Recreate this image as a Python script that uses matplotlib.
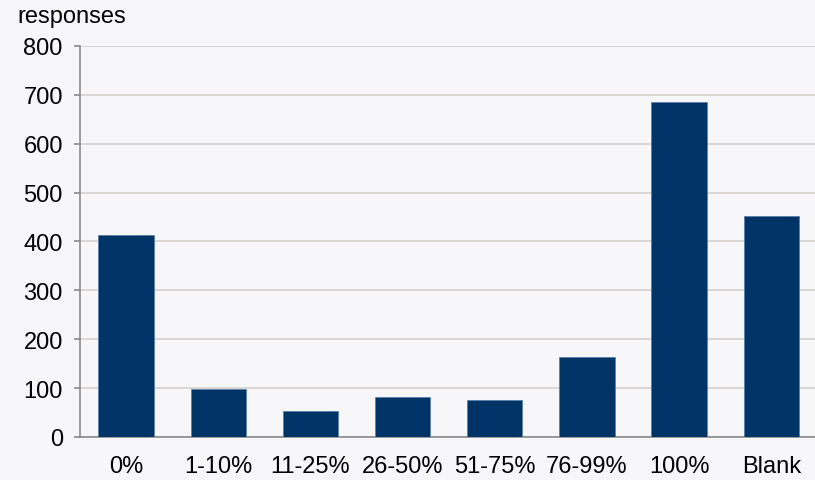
import matplotlib
matplotlib.use("Agg")
import matplotlib.pyplot as plt

# answer buckets and response counts
categories = ['0%', '1-10%', '11-25%', '26-50%', '51-75%', '76-99%', '100%', 'Blank']
responses = [413, 98, 53, 82, 76, 164, 685, 452]
yticks = [0, 100, 200, 300, 400, 500, 600, 700, 800]

plt.rcParams['font.family'] = ['Liberation Sans', 'DejaVu Sans']

bg = '#f7f7fa'
fig = plt.figure(figsize=(8.15, 4.81), dpi=100, facecolor=bg)
ax = fig.add_axes([0.098, 0.0894, 0.905, 0.813], facecolor=bg)

x = range(len(categories))
ax.bar(x, responses, width=0.6, color='#003366', edgecolor='#5a7fa8', linewidth=0.6, zorder=3)

ax.set_xlim(-0.5, len(categories) - 0.5)
ax.set_ylim(0, 800)
ax.set_yticks(yticks)
ax.set_xticks(list(x))
ax.set_xticklabels(categories)
ax.yaxis.grid(True, color='#d3d0cc', linewidth=1.2, zorder=0)

for s in ['top', 'right']:
    ax.spines[s].set_visible(False)
for s in ['left', 'bottom']:
    ax.spines[s].set_color('#8a8a8a')
    ax.spines[s].set_linewidth(1.2)

ax.tick_params(axis='y', length=4.3, width=1.2, color='#8a8a8a', pad=8, labelsize=17)
ax.tick_params(axis='x', length=0, pad=13, labelsize=17)

fig.text(0.021, 0.965, 'responses', fontsize=17, va='center', ha='left')

fig.savefig('out.png', dpi=100, facecolor=bg)
